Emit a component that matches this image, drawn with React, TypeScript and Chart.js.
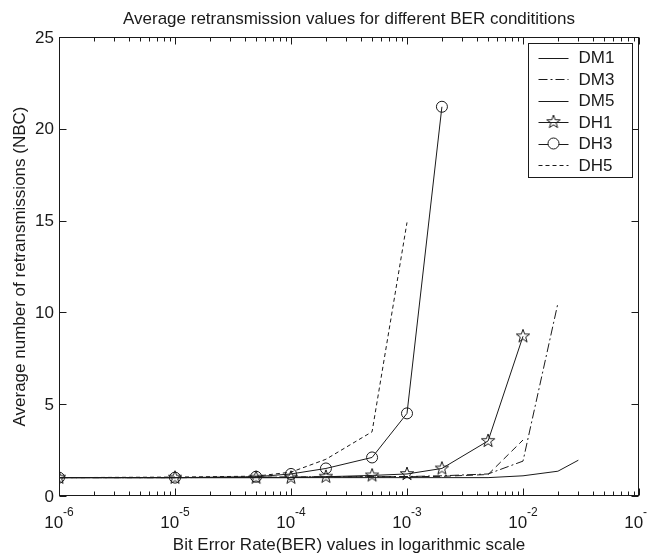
import React, { useEffect, useRef } from "react";
import { Chart, registerables } from "chart.js";
Chart.register(...registerables);

const TITLE = "Average retransmission values for different BER condititions";
const X_TITLE = "Bit Error Rate(BER) values in logarithmic scale";
const Y_TITLE = "Average number of retransmissions (NBC)";

const BER = [1e-6, 1e-5, 5e-5, 1e-4, 2e-4, 5e-4, 1e-3, 2e-3, 5e-3, 1e-2, 2e-2, 3e-2];
const DM1 = [1, 1, 1, 1, 1, 1, 1, 1, 1.0, 1.1, 1.35, 1.95];
const DM3 = [1, 1, 1.02, 1.03, 1.05, 1.05, 1.06, 1.1, 1.2, 1.9, 10.5, null];
const DM5 = [1, 1, 1.02, 1.03, 1.04, 1.05, 1.05, 1.07, 1.17, 3.05, null, null];
const DH1 = [1, 1, 1, 1, 1.05, 1.12, 1.2, 1.5, 3.0, 8.7, null, null];
const DH3 = [1, 1, 1.05, 1.2, 1.5, 2.1, 4.5, 21.2, null, null, null, null];
const DH5 = [1, 1.03, 1.08, 1.3, 2.0, 3.5, 14.9, null, null, null, null, null];

const SERIES_NAMES = ["DM1", "DM3", "DM5", "DH1", "DH3", "DH5"];
const SERIES_VALUES = [DM1, DM3, DM5, DH1, DH3, DH5];
const X_TICK_EXPONENTS = [-6, -5, -4, -3, -2, -1];
const Y_TICKS = [0, 5, 10, 15, 20, 25];

const INK = "#1a1a1a";
const FONT = "'Liberation Sans', Arial, Helvetica, sans-serif";

function makePentagram(size: number, outer: number, inner: number): HTMLCanvasElement {
  const c = document.createElement("canvas");
  c.width = size;
  c.height = size;
  const g = c.getContext("2d")!;
  const cx = size / 2, cy = size / 2;
  g.beginPath();
  for (let i = 0; i < 10; i++) {
    const r = i % 2 === 0 ? outer : inner;
    const a = -Math.PI / 2 + (i * Math.PI) / 5;
    const px = cx + r * Math.cos(a), py = cy + r * Math.sin(a);
    if (i === 0) g.moveTo(px, py); else g.lineTo(px, py);
  }
  g.closePath();
  g.strokeStyle = INK;
  g.lineWidth = 1;
  g.stroke();
  return c;
}

export default function App() {
  const ref = useRef<HTMLCanvasElement | null>(null);
  useEffect(() => {
    if (!ref.current) return;
    const star = makePentagram(16, 7, 2.8);
    const styles = [
      { dash: [] as number[], point: false as any, r: 0 },
      { dash: [9, 3, 2, 3], point: false as any, r: 0 },
      { dash: [7, 4], point: false as any, r: 0 },
      { dash: [], point: star as any, r: 7 },
      { dash: [], point: "circle" as any, r: 5.5 },
      { dash: [4, 3], point: false as any, r: 0 },
    ];
    const legendDash = [[], [9, 3, 2, 3], [], [], [], [4, 3]];

    const datasets = SERIES_NAMES.map((name, i) => ({
      label: name,
      data: BER.map((x, j) => ({ x, y: SERIES_VALUES[i][j] })).filter((p) => p.y !== null),
      borderColor: INK,
      backgroundColor: "rgba(0,0,0,0)",
      borderWidth: 1,
      borderDash: styles[i].dash,
      pointStyle: styles[i].point || "circle",
      pointRadius: styles[i].r,
      pointBorderColor: INK,
      pointBorderWidth: 1,
      pointBackgroundColor: "rgba(0,0,0,0)",
      tension: 0,
      fill: false,
    }));

    const decor = {
      id: "matlabDecor",
      afterDraw(chart: any) {
        const ctx = chart.ctx as CanvasRenderingContext2D;
        const { left, right, top, bottom } = chart.chartArea;
        const xs = chart.scales.x, ys = chart.scales.y;
        const L = Math.round(left) + 0.5, R = Math.round(right) - 0.5;
        const T = Math.round(top) + 0.5, B = Math.round(bottom) - 0.5;
        ctx.save();
        ctx.strokeStyle = INK;
        ctx.lineWidth = 1;
        ctx.setLineDash([]);
        ctx.strokeRect(L, T, R - L, B - T);
        ctx.beginPath();
        X_TICK_EXPONENTS.forEach((e) => {
          for (let m = 1; m <= 9; m++) {
            const v = m * Math.pow(10, e);
            if (v > xs.max * 1.0001) break;
            const px = Math.round(xs.getPixelForValue(v)) + 0.5;
            const len = m === 1 ? 7 : 4;
            ctx.moveTo(px, B); ctx.lineTo(px, B - len);
            ctx.moveTo(px, T); ctx.lineTo(px, T + len);
          }
        });
        Y_TICKS.forEach((v) => {
          const py = Math.round(ys.getPixelForValue(v)) + 0.5;
          ctx.moveTo(L, py); ctx.lineTo(L + 7, py);
          ctx.moveTo(R, py); ctx.lineTo(R - 7, py);
        });
        ctx.stroke();

        ctx.fillStyle = INK;
        ctx.font = `17px ${FONT}`;
        ctx.textAlign = "right";
        ctx.textBaseline = "middle";
        Y_TICKS.forEach((v) => {
          ctx.fillText(String(v), left - 5, ys.getPixelForValue(v) + 1);
        });
        X_TICK_EXPONENTS.forEach((e) => {
          const px = xs.getPixelForValue(Math.pow(10, e));
          ctx.font = `17px ${FONT}`;
          const w10 = ctx.measureText("10").width;
          ctx.font = `12px ${FONT}`;
          const exp = String(e);
          const we = ctx.measureText(exp).width;
          const x0 = px - (w10 + we) / 2;
          ctx.textAlign = "left";
          ctx.textBaseline = "alphabetic";
          ctx.font = `17px ${FONT}`;
          ctx.fillText("10", x0, bottom + 32);
          ctx.font = `12px ${FONT}`;
          ctx.fillText(exp, x0 + w10, bottom + 20);
        });
        ctx.font = `17px ${FONT}`;
        ctx.textAlign = "center";
        ctx.textBaseline = "middle";
        ctx.fillText(TITLE, (left + right) / 2, 19);
        ctx.fillText(X_TITLE, (left + right) / 2, 545);
        ctx.save();
        ctx.translate(20, (top + bottom) / 2);
        ctx.rotate(-Math.PI / 2);
        ctx.fillText(Y_TITLE, 0, 0);
        ctx.restore();

        const bw = 104, bh = 134;
        const bx = Math.round(right - 7 - bw) + 0.5, by = Math.round(top + 6) + 0.5;
        ctx.fillStyle = "#ffffff";
        ctx.fillRect(bx, by, bw, bh);
        ctx.strokeStyle = INK;
        ctx.strokeRect(bx, by, bw, bh);
        SERIES_NAMES.forEach((name, i) => {
          const ry = by + 14 + i * 21.5;
          ctx.beginPath();
          ctx.setLineDash(legendDash[i]);
          ctx.moveTo(bx + 10, Math.round(ry) + 0.5);
          ctx.lineTo(bx + 40, Math.round(ry) + 0.5);
          ctx.stroke();
          ctx.setLineDash([]);
          if (i === 3) {
            ctx.drawImage(star, bx + 25 - 8, ry - 8);
          } else if (i === 4) {
            ctx.beginPath();
            ctx.arc(bx + 25, ry, 5.5, 0, Math.PI * 2);
            ctx.fillStyle = "#ffffff";
            ctx.fill();
            ctx.stroke();
          }
          ctx.fillStyle = INK;
          ctx.font = `17px ${FONT}`;
          ctx.textAlign = "left";
          ctx.textBaseline = "middle";
          ctx.fillText(name, bx + 50, ry + 1);
        });
        ctx.restore();
      },
    };

    const chart = new Chart(ref.current, {
      type: "line",
      data: { datasets: datasets as any },
      options: {
        animation: false,
        responsive: false,
        maintainAspectRatio: false,
        devicePixelRatio: 1,
        layout: { padding: { left: 59, right: 3, top: 37, bottom: 60 } },
        plugins: { legend: { display: false }, title: { display: false }, tooltip: { enabled: false } },
        scales: {
          x: { type: "logarithmic", min: 1e-6, max: 1e-1, display: false },
          y: { type: "linear", min: 0, max: 25, display: false },
        },
      },
      plugins: [decor],
    });
    return () => chart.destroy();
  }, []);

  return (
    <div style={{ position: "absolute", left: 0, top: 0, width: 647, height: 556, background: "#fff" }}>
      <canvas ref={ref} width={647} height={556} style={{ display: "block", width: 647, height: 556 }} />
    </div>
  );
}
